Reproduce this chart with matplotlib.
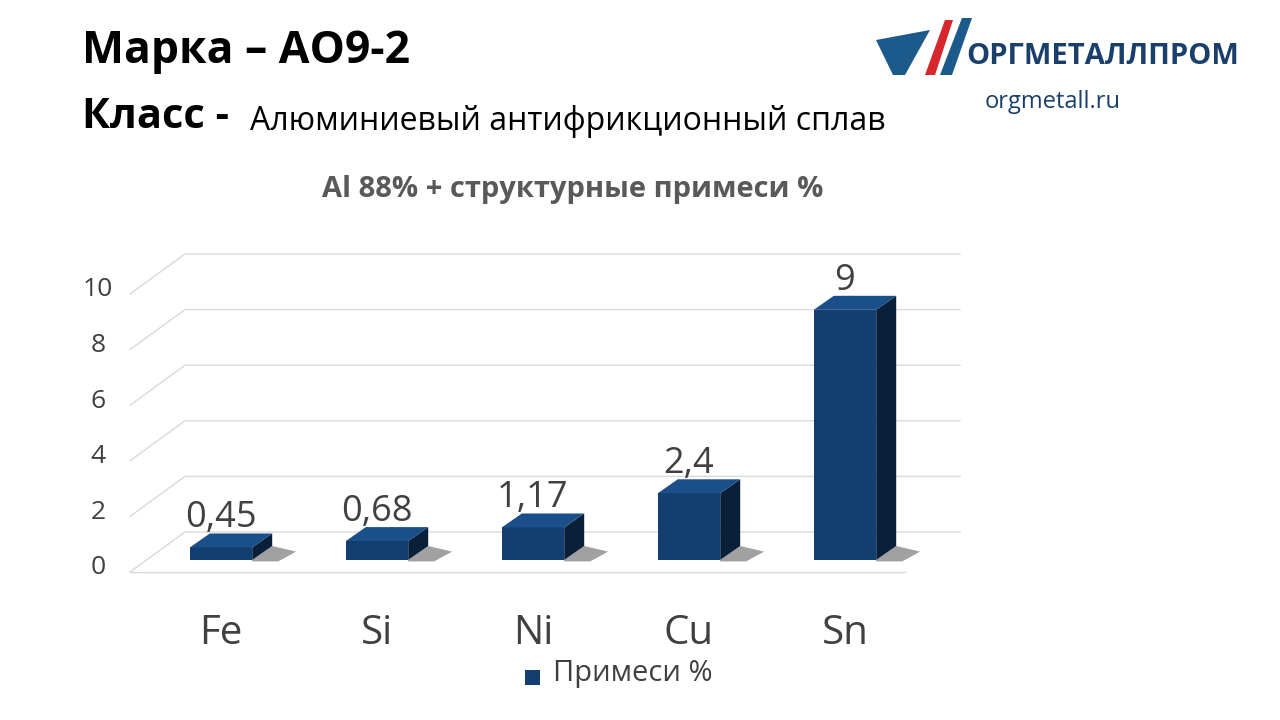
import matplotlib
matplotlib.use("Agg")
import matplotlib.pyplot as plt
from matplotlib.patches import Polygon, Rectangle

categories = ["Fe", "Si", "Ni", "Cu", "Sn"]
values = [0.45, 0.68, 1.17, 2.4, 9]
labels = ["0,45", "0,68", "1,17", "2,4", "9"]
yticks = [0, 2, 4, 6, 8, 10]

plt.rcParams['font.family'] = ['Open Sans', 'DejaVu Sans']
fig = plt.figure(figsize=(12.8, 7.2), dpi=100)
ax = fig.add_axes([0, 0, 1, 1])
PX = 156.0
PY = 27.8
X0, Y0 = 221, 560
ax.set_xlim((0 - X0) / PX, (1280 - X0) / PX)
ax.set_ylim((Y0 - 720) / PY, Y0 / PY)
ax.axis('off')

def px(x): return (x - X0) / PX
def py(y): return (Y0 - y) / PY

for t in yticks:
    yb = py(572 - 40) + t
    yf = py(572) + t
    ax.plot([px(130), px(185), px(960)], [yf, yb, yb], color='#d9d9d9', lw=1, zorder=1)
    ax.text(px(98), yf + 0.15, str(t), ha='center', va='center', fontsize=19, color='#404040')
ax.plot([px(130), px(905)], [py(572), py(572)], color='#d9d9d9', lw=1, zorder=1)

w = 0.2
dx, dy = 20 / PX, 14 / PY
for i, (v, lab) in enumerate(zip(values, labels)):
    ax.add_patch(Polygon([(i + w, 0), (i + w + dx, dy), (i + w + dx * 2.2, dy * 0.6), (i + w + dx * 1.3, -dy * 0.1), (i + w, -dy * 0.1)],
                         closed=True, color='#555555', alpha=0.55, lw=0, zorder=2))
    ax.add_patch(Rectangle((i - w, 0), 2 * w, v, color='#123e70', lw=0, zorder=3))
    ax.add_patch(Polygon([(i + w, 0), (i + w + dx, dy), (i + w + dx, v + dy), (i + w, v)],
                         closed=True, color='#0a2038', lw=0, zorder=3))
    ax.add_patch(Polygon([(i - w, v), (i + w, v), (i + w + dx, v + dy), (i - w + dx, v + dy)],
                         closed=True, color='#1a4f8a', lw=0, zorder=3))
    ax.text(i, v + dy - 0.1, lab, ha='center', va='bottom', fontsize=26, color='#404040', zorder=4)
    ax.text(i, py(634), categories[i], ha='center', va='center', fontsize=29, color='#404040')

ax.add_patch(Rectangle((px(525), py(685)), 15 / PX, 15 / PY, color='#123e70', lw=0))
fig.text(553 / 1280, 1 - 674 / 720, "Примеси %", fontsize=21, color='#404040', va='center')

fig.text(82 / 1280, 1 - 52 / 720, "Марка – АО9-2", fontsize=32, fontweight='bold', va='center')
fig.text(82 / 1280, 1 - 118 / 720, "Класс -", fontsize=30, fontweight='bold', va='center')
fig.text(250 / 1280, 1 - 122 / 720, "Алюминиевый антифрикционный сплав", fontsize=23, va='center')
fig.text(573 / 1280, 1 - 190 / 720, "Al 88% + структурные примеси %", fontsize=21, fontweight='bold',
         color='#595959', ha='center', va='center')

ax.add_patch(Polygon([(px(876), py(40)), (px(930), py(30)), (px(905), py(75)), (px(893), py(75))], color='#1b5a8a', lw=0))
ax.add_patch(Polygon([(px(925), py(75)), (px(945), py(20)), (px(953), py(20)), (px(935), py(75))], color='#d7262e', lw=0))
ax.add_patch(Polygon([(px(940), py(75)), (px(962), py(18)), (px(972), py(18)), (px(952), py(75))], color='#1b5a8a', lw=0))
fig.text(966 / 1280, 1 - 57 / 720, "ОРГМЕТАЛЛПРОМ", fontsize=21, fontweight='bold', color='#1b3f6b', va='center')
fig.text(985 / 1280, 1 - 102 / 720, "orgmetall.ru", fontsize=17, color='#1b3f6b', va='center')

fig.savefig("out.png", dpi=100)
